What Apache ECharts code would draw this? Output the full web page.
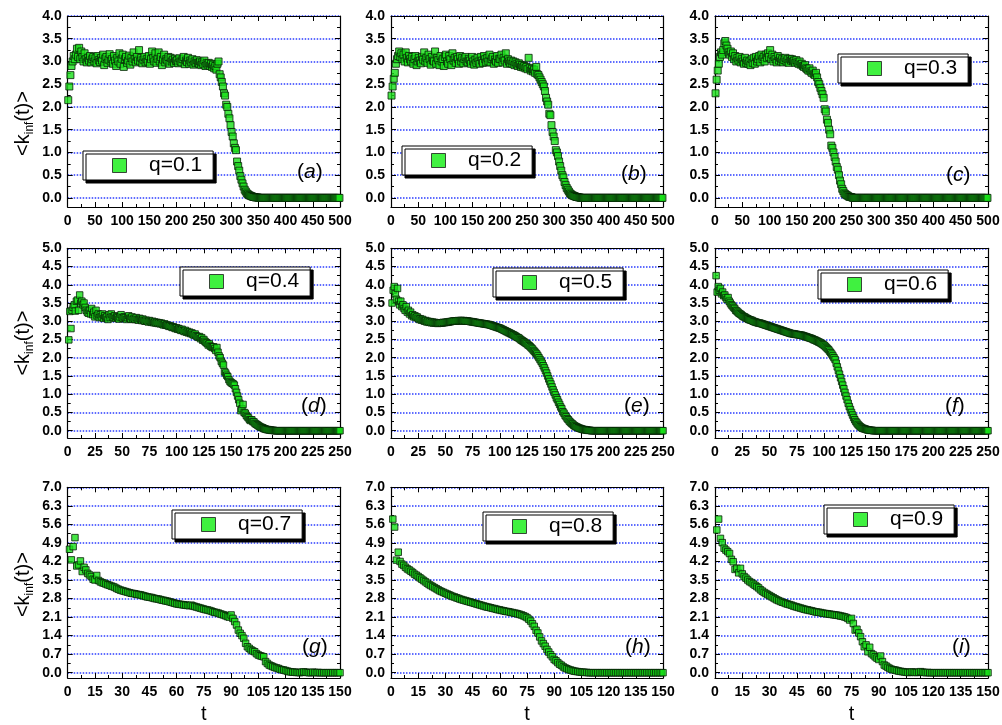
<!DOCTYPE html>
<html>
<head>
<meta charset="utf-8">
<script src="https://cdn.jsdelivr.net/npm/echarts@6/dist/echarts.min.js"></script>
<style>
html,body{margin:0;padding:0;background:#fff;}
#chartsCover{width:1002px;height:725px;}
</style>
</head>
<body>
<div id="chartsCover"></div>
<script>
	// legend names and panel tags
	var qNames = ['q=0.1','q=0.2','q=0.3','q=0.4','q=0.5','q=0.6','q=0.7','q=0.8','q=0.9'];
	var panelTags = ['a','b','c','d','e','f','g','h','i'];

	// tick values of the y axes (row 1, row 2, row 3)
	var yTicks1 = [0,0.5,1.0,1.5,2.0,2.5,3.0,3.5,4.0];
	var yMinor1 = [0.25,0.75,1.25,1.75,2.25,2.75,3.25,3.75];
	var yTicks2 = [0,0.5,1.0,1.5,2.0,2.5,3.0,3.5,4.0,4.5,5.0];
	var yMinor2 = [0.25,0.75,1.25,1.75,2.25,2.75,3.25,3.75,4.25,4.75];
	var yTicks3 = [0,0.7,1.4,2.1,2.8,3.5,4.2,4.9,5.6,6.3,7.0];
	var yMinor3 = [0.35,1.05,1.75,2.45,3.15,3.85,4.55,5.25,5.95,6.65];
	// x axis range / label step per row, and time step of the samples
	var xMaxRow = [500,250,150];
	var xStepRow = [50,25,15];
	var tStepRow = [2,1,1];

	// <k_inf(t)> values, t = 1,3,5,... (row 1) or t = 1,2,3,... (rows 2,3)
	var kA = [
	  2.15,2.45,2.7,2.9,3.0,3.12,3.05,3.15,3.28,3.1,
	  3.3,3.05,3.22,3.1,3.0,3.18,3.05,2.98,3.08,3.02,
	  3.12,2.98,3.05,3.1,3.0,3.07,2.96,3.12,3.03,2.99,
	  3.08,3.02,3.15,2.92,3.06,3.1,2.97,3.04,3.16,3.0,
	  3.05,2.95,3.12,3.02,2.9,3.08,3.0,3.18,2.95,3.06,
	  3.15,2.88,3.05,3.1,2.97,3.02,3.13,2.93,3.08,3.0,
	  3.2,3.05,2.98,3.1,3.02,3.25,3.0,3.08,2.96,3.04,
	  3.1,2.98,3.05,3.0,3.12,2.95,3.05,3.22,3.08,3.0,
	  3.18,2.97,3.06,3.2,3.0,3.1,2.92,3.04,3.15,2.98,
	  3.05,3.02,3.1,2.95,3.08,3.0,3.04,2.97,3.06,3.01,
	  3.03,2.96,3.07,3.0,2.98,3.05,3.1,2.94,3.02,2.99,
	  3.08,2.95,3.02,2.98,3.05,2.93,3.0,2.96,3.03,2.97,
	  2.95,3.0,2.92,2.98,2.94,3.02,2.9,2.96,2.93,2.97,
	  2.9,2.95,2.88,2.93,2.85,2.9,2.82,2.95,3.0,2.72,
	  2.65,2.55,2.45,2.3,2.25,2.05,2.0,1.85,1.75,1.6,
	  1.45,1.35,1.2,1.1,1.05,0.8,0.7,0.6,0.48,0.4,
	  0.32,0.25,0.18,0.14,0.1,0.08,0.06,0.05,0.04,0.03,
	  0.02,0.02,0.01,0.01,0.01,0,0,0,0,0,
	  0,0,0,0,0,0,0,0,0,0,
	  0,0,0,0,0,0,0,0,0,0,
	  0,0,0,0,0,0,0,0,0,0,
	  0,0,0,0,0,0,0,0,0,0,
	  0,0,0,0,0,0,0,0,0,0,
	  0,0,0,0,0,0,0,0,0,0,
	  0,0,0,0,0,0,0,0,0,0
	];
	var kB = [
	  2.25,2.45,2.62,2.75,2.95,3.05,3.12,3.22,3.1,3.18,
	  3.05,3.15,3.0,3.2,3.08,2.98,3.12,3.05,3.0,3.1,
	  2.95,3.05,3.12,2.92,3.0,3.08,3.02,2.96,3.1,3.04,
	  3.2,3.0,3.08,2.97,3.15,3.05,2.93,3.1,3.02,3.0,
	  3.22,2.95,3.08,3.03,2.92,3.12,3.0,3.05,2.9,3.1,
	  3.15,3.0,2.95,3.12,3.05,2.92,3.18,3.02,3.08,2.97,
	  3.1,3.05,2.95,3.12,3.0,3.08,2.96,3.05,3.1,3.0,
	  2.98,3.06,3.02,2.95,3.1,3.0,2.93,3.04,2.97,3.08,
	  3.0,2.95,3.1,3.02,2.97,3.12,3.05,2.98,3.08,3.0,
	  3.15,2.98,3.05,3.1,2.95,3.04,3.0,3.12,2.97,3.06,
	  3.05,3.15,2.98,3.08,3.02,3.18,2.95,3.05,3.0,2.96,
	  3.02,2.95,3.0,2.92,2.98,2.94,2.9,2.96,2.93,2.88,
	  2.92,2.87,2.9,2.85,2.88,2.83,3.08,2.86,2.8,2.84,
	  2.78,2.82,2.75,2.88,2.72,2.7,2.65,2.6,2.55,2.5,
	  2.45,2.35,2.2,2.12,2.05,1.85,1.82,1.6,1.45,1.35,
	  1.25,1.05,1.0,0.92,0.8,0.7,0.6,0.5,0.45,0.35,
	  0.28,0.22,0.18,0.14,0.1,0.08,0.06,0.05,0.04,0.03,
	  0.02,0.02,0.01,0.01,0,0,0,0,0,0,
	  0,0,0,0,0,0,0,0,0,0,
	  0,0,0,0,0,0,0,0,0,0,
	  0,0,0,0,0,0,0,0,0,0,
	  0,0,0,0,0,0,0,0,0,0,
	  0,0,0,0,0,0,0,0,0,0,
	  0,0,0,0,0,0,0,0,0,0,
	  0,0,0,0,0,0,0,0,0,0
	];
	var kC = [
	  2.3,2.6,2.8,2.95,3.1,3.2,3.15,3.25,3.4,3.45,
	  3.35,3.28,3.2,3.15,3.22,3.1,3.18,3.05,3.12,3.0,
	  3.08,3.02,3.1,2.98,3.05,3.0,2.95,3.08,2.97,3.02,
	  2.95,3.0,2.92,3.05,2.97,3.08,2.95,3.1,3.0,3.05,
	  3.12,2.98,3.15,3.05,3.1,3.0,3.15,3.08,3.18,3.1,
	  3.25,3.05,3.15,3.0,3.1,3.05,2.98,3.12,3.02,3.08,
	  3.0,3.05,2.98,3.03,3.08,3.0,3.05,2.97,3.06,3.02,
	  3.05,3.0,3.02,2.97,3.03,2.98,2.95,3.0,2.93,2.95,
	  2.9,2.88,2.92,2.85,2.83,2.8,2.85,2.78,2.75,2.8,
	  2.72,2.7,2.75,2.65,2.55,2.5,2.42,2.35,2.28,2.2,
	  1.95,1.9,1.72,1.65,1.5,1.4,1.15,1.1,1.0,0.9,
	  0.8,0.68,0.62,0.5,0.38,0.3,0.2,0.15,0.1,0.08,
	  0.06,0.05,0.03,0.02,0.02,0.01,0,0,0,0,
	  0,0,0,0,0,0,0,0,0,0,
	  0,0,0,0,0,0,0,0,0,0,
	  0,0,0,0,0,0,0,0,0,0,
	  0,0,0,0,0,0,0,0,0,0,
	  0,0,0,0,0,0,0,0,0,0,
	  0,0,0,0,0,0,0,0,0,0,
	  0,0,0,0,0,0,0,0,0,0,
	  0,0,0,0,0,0,0,0,0,0,
	  0,0,0,0,0,0,0,0,0,0,
	  0,0,0,0,0,0,0,0,0,0,
	  0,0,0,0,0,0,0,0,0,0,
	  0,0,0,0,0,0,0,0,0,0
	];
	var kD = [
	  2.49,3.27,2.8,3.3,3.38,3.45,3.28,3.55,3.58,3.3,
	  3.72,3.5,3.55,3.45,3.5,3.38,3.3,3.25,3.22,3.3,
	  3.2,3.35,3.18,3.25,3.12,3.3,3.15,3.2,3.1,3.18,
	  3.12,3.2,3.08,3.15,3.1,3.12,3.05,3.18,3.1,3.2,
	  3.12,3.1,3.15,3.08,3.12,3.1,3.06,3.12,3.18,3.1,
	  3.08,3.12,3.1,3.05,3.1,3.15,3.08,3.06,3.12,3.05,
	  3.08,3.05,3.1,3.05,3.03,3.08,3.05,3.02,3.06,3.02,
	  3.0,3.03,3.0,2.98,3.02,2.99,2.97,3.0,2.96,2.98,
	  2.95,2.97,2.94,2.96,2.93,2.95,2.92,2.9,2.93,2.89,
	  2.9,2.88,2.86,2.88,2.85,2.83,2.85,2.82,2.8,2.82,
	  2.78,2.8,2.77,2.75,2.78,2.74,2.72,2.75,2.7,2.72,
	  2.68,2.7,2.66,2.68,2.64,2.62,2.65,2.6,2.58,2.56,
	  2.58,2.52,2.55,2.48,2.5,2.45,2.42,2.4,2.35,2.38,
	  2.32,2.3,2.28,2.3,2.25,2.2,2.28,2.15,2.05,2.0,
	  1.9,1.85,1.8,1.62,1.58,1.52,1.48,1.4,1.35,1.32,
	  1.3,1.28,1.25,1.15,1.05,0.95,0.85,0.75,0.55,0.6,
	  0.72,0.5,0.48,0.42,0.38,0.35,0.3,0.28,0.3,0.25,
	  0.24,0.2,0.18,0.16,0.14,0.12,0.1,0.09,0.08,0.06,
	  0.05,0.04,0.03,0.03,0.02,0.02,0.01,0.01,0.01,0,
	  0,0,0,0,0,0,0,0,0,0,
	  0,0,0,0,0,0,0,0,0,0,
	  0,0,0,0,0,0,0,0,0,0,
	  0,0,0,0,0,0,0,0,0,0,
	  0,0,0,0,0,0,0,0,0,0,
	  0,0,0,0,0,0,0,0,0,0
	];
	var kE = [
	  3.5,3.85,3.95,3.75,3.6,3.9,3.55,3.45,3.55,3.4,
	  3.45,3.35,3.3,3.4,3.25,3.3,3.2,3.25,3.15,3.18,
	  3.12,3.15,3.1,3.12,3.08,3.05,3.07,3.03,3.05,3.02,
	  3.0,3.02,2.98,3.0,2.97,2.99,2.96,2.98,2.95,2.97,
	  2.95,2.96,2.94,2.95,2.95,2.96,2.95,2.97,2.96,2.97,
	  2.97,2.98,2.98,2.99,2.99,3.0,3.0,3.01,3.0,3.01,
	  3.01,3.02,3.01,3.02,3.02,3.01,3.02,3.01,3.0,3.01,
	  3.0,3.0,2.99,2.99,2.98,2.98,2.97,2.97,2.96,2.96,
	  2.95,2.95,2.94,2.94,2.93,2.93,2.92,2.92,2.91,2.91,
	  2.9,2.89,2.88,2.87,2.86,2.85,2.84,2.83,2.82,2.81,
	  2.8,2.78,2.77,2.75,2.74,2.72,2.71,2.69,2.68,2.66,
	  2.65,2.63,2.62,2.6,2.58,2.56,2.55,2.53,2.5,2.48,
	  2.46,2.44,2.42,2.4,2.38,2.35,2.33,2.3,2.27,2.24,
	  2.2,2.17,2.13,2.1,2.05,2.0,1.95,1.9,1.85,1.78,
	  1.72,1.65,1.58,1.5,1.42,1.35,1.28,1.2,1.12,1.05,
	  0.98,0.9,0.85,0.78,0.72,0.65,0.6,0.52,0.48,0.42,
	  0.38,0.33,0.3,0.26,0.23,0.2,0.18,0.15,0.13,0.11,
	  0.1,0.08,0.07,0.06,0.05,0.04,0.03,0.03,0.02,0.02,
	  0.01,0.01,0.01,0,0,0,0,0,0,0,
	  0,0,0,0,0,0,0,0,0,0,
	  0,0,0,0,0,0,0,0,0,0,
	  0,0,0,0,0,0,0,0,0,0,
	  0,0,0,0,0,0,0,0,0,0,
	  0,0,0,0,0,0,0,0,0,0,
	  0,0,0,0,0,0,0,0,0,0
	];
	var kF = [
	  4.25,3.8,3.95,3.85,3.9,3.75,3.8,3.7,3.72,3.65,
	  3.6,3.65,3.55,3.5,3.45,3.42,3.38,3.35,3.3,3.28,
	  3.25,3.22,3.2,3.18,3.15,3.13,3.12,3.1,3.08,3.07,
	  3.05,3.04,3.03,3.02,3.0,2.99,2.98,2.97,2.96,2.95,
	  2.95,2.94,2.93,2.92,2.91,2.9,2.89,2.88,2.87,2.86,
	  2.85,2.84,2.83,2.82,2.81,2.8,2.79,2.78,2.77,2.76,
	  2.75,2.74,2.73,2.72,2.71,2.7,2.69,2.68,2.67,2.66,
	  2.66,2.65,2.65,2.64,2.64,2.63,2.63,2.62,2.62,2.61,
	  2.6,2.59,2.58,2.57,2.56,2.55,2.54,2.53,2.52,2.5,
	  2.49,2.48,2.46,2.45,2.43,2.42,2.4,2.38,2.36,2.34,
	  2.31,2.28,2.25,2.22,2.18,2.14,2.1,2.05,2.0,1.95,
	  1.85,1.75,1.65,1.55,1.45,1.35,1.25,1.15,1.05,0.95,
	  0.85,0.75,0.66,0.58,0.5,0.43,0.36,0.3,0.25,0.21,
	  0.17,0.14,0.11,0.09,0.07,0.06,0.05,0.04,0.03,0.02,
	  0.02,0.01,0.01,0.01,0,0,0,0,0,0,
	  0,0,0,0,0,0,0,0,0,0,
	  0,0,0,0,0,0,0,0,0,0,
	  0,0,0,0,0,0,0,0,0,0,
	  0,0,0,0,0,0,0,0,0,0,
	  0,0,0,0,0,0,0,0,0,0,
	  0,0,0,0,0,0,0,0,0,0,
	  0,0,0,0,0,0,0,0,0,0,
	  0,0,0,0,0,0,0,0,0,0,
	  0,0,0,0,0,0,0,0,0,0,
	  0,0,0,0,0,0,0,0,0,0
	];
	var kG = [
	  4.66,4.26,4.76,5.1,4.03,4.07,4.22,3.82,3.98,3.88,
	  3.75,3.69,3.63,3.53,3.5,3.67,3.48,3.43,3.4,3.38,
	  3.35,3.32,3.3,3.27,3.25,3.22,3.18,3.15,3.12,3.1,
	  3.08,3.06,3.04,3.02,3.0,2.99,2.98,2.96,2.95,2.94,
	  2.92,2.9,2.88,2.86,2.85,2.84,2.82,2.8,2.79,2.78,
	  2.76,2.74,2.73,2.71,2.7,2.68,2.66,2.64,2.62,2.6,
	  2.59,2.58,2.57,2.56,2.55,2.54,2.53,2.55,2.52,2.5,
	  2.48,2.46,2.44,2.42,2.4,2.38,2.37,2.35,2.33,2.3,
	  2.28,2.27,2.25,2.22,2.2,2.18,2.15,2.12,2.1,2.18,
	  2.05,1.93,1.8,1.61,1.49,1.4,1.3,1.11,0.98,0.92,
	  0.86,0.82,0.79,0.72,0.67,0.64,0.62,0.6,0.42,0.35,
	  0.29,0.26,0.23,0.2,0.18,0.16,0.13,0.11,0.1,0.08,
	  0.06,0.04,0.03,0.02,0.02,0.01,0.01,0,0.02,0.03,
	  0.02,0.01,0,0,0.02,0.01,0,0.01,0,0,
	  0,0,0,0,0,0,0,0,0,0
	];
	var kH = [
	  5.8,5.5,4.25,4.55,4.2,4.1,4.05,3.98,3.92,3.88,
	  3.83,3.78,3.72,3.68,3.63,3.58,3.53,3.48,3.43,3.38,
	  3.33,3.29,3.25,3.21,3.17,3.13,3.09,3.06,3.03,3.0,
	  2.97,2.94,2.91,2.88,2.86,2.83,2.81,2.78,2.76,2.74,
	  2.72,2.7,2.68,2.66,2.64,2.62,2.6,2.58,2.56,2.54,
	  2.52,2.5,2.48,2.47,2.45,2.43,2.42,2.4,2.38,2.37,
	  2.35,2.34,2.32,2.31,2.3,2.28,2.27,2.25,2.24,2.22,
	  2.2,2.18,2.15,2.12,2.08,2.02,1.95,1.85,1.75,1.6,
	  1.5,1.35,1.2,1.1,1.0,0.88,0.78,0.68,0.6,0.5,
	  0.45,0.38,0.32,0.28,0.22,0.18,0.15,0.12,0.1,0.08,
	  0.06,0.05,0.04,0.03,0.02,0.02,0.01,0.01,0,0,
	  0,0,0,0,0,0,0,0,0,0,
	  0,0,0,0,0,0,0,0,0,0,
	  0,0,0,0,0,0,0,0,0,0,
	  0,0,0,0,0,0,0,0,0,0
	];
	var kI = [
	  5.39,5.8,5.07,4.91,4.7,4.63,4.57,4.5,4.28,4.19,
	  3.9,3.94,3.77,3.94,3.73,3.63,3.57,3.5,3.44,3.4,
	  3.35,3.3,3.25,3.2,3.13,3.08,3.03,2.99,2.95,2.91,
	  2.87,2.83,2.79,2.75,2.72,2.69,2.66,2.64,2.61,2.59,
	  2.57,2.55,2.52,2.5,2.48,2.46,2.44,2.42,2.4,2.38,
	  2.37,2.35,2.34,2.32,2.3,2.29,2.28,2.27,2.25,2.24,
	  2.23,2.22,2.21,2.2,2.19,2.18,2.17,2.16,2.14,2.13,
	  2.11,2.09,2.05,1.99,2.05,1.86,1.61,1.64,1.5,1.36,
	  1.17,0.98,1.05,0.79,0.96,0.72,0.67,0.6,0.55,0.5,
	  0.63,0.42,0.29,0.25,0.2,0.16,0.13,0.11,0.1,0.08,
	  0.06,0.05,0.04,0.03,0.02,0.01,0.01,0.03,0.02,0.01,
	  0.01,0.02,0.04,0.02,0.01,0,0.01,0,0,0,
	  0,0,0,0,0,0,0,0,0,0,
	  0,0,0,0,0,0,0,0,0,0,
	  0,0,0,0,0,0,0,0,0,0
	];
	var kList = [kA,kB,kC,kD,kE,kF,kG,kH,kI];

	// layout (px)
	var colLeft = [67.7, 391, 715];
	var colWidth = [272.3, 272, 273];
	var rowTop = [16, 248.3, 487.3];
	var rowHeight = [191, 189.7, 190.7];
	var rowYMax = [4.0, 5.0, 7.0];
	var rowTicks = [yTicks1, yTicks2, yTicks3];
	var rowMinor = [yMinor1, yMinor2, yMinor3];
	var nameShift = [24, 0, 4];   // extra end padding of the y name, moves it down
	var legendPos = [[83,151],[402,146],[838,54],[180,267],[493,268],[818,270],[172,510],[483,512],[824,505]];
	var tagPos = [[297,162],[621,164],[946,165],[301,396],[624,396],[945,396],[302,637],[625,637],[952,637]];

	var fontFam = 'Arial, "Liberation Sans", sans-serif';

	function yAxisOf(g, r, side, major, first){
	  var ax = {
	    gridIndex: g,
	    type: 'value',
	    position: side,
	    min: -0.2,
	    max: rowYMax[r],
	    axisLine: { show: major, onZero: false, lineStyle: { color: '#000', width: 1.2 } },
	    axisTick: { show: true, inside: true, length: major ? 5 : 3,
	                customValues: major ? rowTicks[r] : rowMinor[r],
	                lineStyle: { color: '#000', width: 1 } },
	    axisLabel: { show: false },
	    splitLine: { show: false },
	    minorSplitLine: { show: false }
	  };
	  if(first){
	    ax.axisLabel = { show: true, customValues: rowTicks[r], color: '#000', fontSize: 14, fontWeight: 'bold',
	                     fontFamily: fontFam, margin: 6,
	                     formatter: function(v){ return v.toFixed(1); } };
	    ax.splitLine = { show: true, lineStyle: { color: '#2a3cff', type: 'dotted', width: 1.5 } };
	  }
	  return ax;
	}

	function xAxisOf(g, r, side, first){
	  return {
	    gridIndex: g,
	    type: 'value',
	    position: side,
	    min: 0,
	    max: xMaxRow[r],
	    interval: xStepRow[r],
	    axisLine: { show: true, onZero: false, lineStyle: { color: '#000', width: 1.2 } },
	    axisTick: { show: true, inside: true, length: 5, lineStyle: { color: '#000', width: 1 } },
	    minorTick: { show: true, splitNumber: 2, length: 3, lineStyle: { color: '#000', width: 1 } },
	    axisLabel: { show: first, color: '#000', fontSize: 14, fontWeight: 'bold', fontFamily: fontFam, margin: 7 },
	    splitLine: { show: false }
	  };
	}

	var grids = [], xAxes = [], yAxes = [], series = [], legends = [], titles = [];
	for(var i = 0; i < 9; i++){
	  var r = Math.floor(i / 3), c = i % 3;
	  grids.push({ left: colLeft[c], top: rowTop[r], width: colWidth[c], height: rowHeight[r],
	               containLabel: false, outerBoundsMode: 'none' });

	  var xb = xAxisOf(i, r, 'bottom', true);
	  if(r == 2){
	    xb.name = 't';
	    xb.nameLocation = 'middle';
	    xb.nameGap = 26;
	    xb.nameTextStyle = { fontSize: 20, fontFamily: fontFam, color: '#000' };
	  }
	  xAxes.push(xb);
	  xAxes.push(xAxisOf(i, r, 'top', false));

	  var yl = yAxisOf(i, r, 'left', true, true);
	  if(c == 0){
	    yl.name = '{m|<k}{s|inf}{m|(t)>}';
	    yl.nameLocation = 'middle';
	    yl.nameRotate = 90;
	    yl.nameGap = 32;
	    yl.nameTextStyle = { fontSize: 20, fontFamily: fontFam, color: '#000',
	                         padding: [0, nameShift[r], 0, 0],
	                         rich: {
	                           m: { fontSize: 20, fontFamily: fontFam, color: '#000', lineHeight: 22, verticalAlign: 'top' },
	                           s: { fontSize: 12, fontFamily: fontFam, color: '#000', lineHeight: 12,
	                                verticalAlign: 'bottom', padding: [16,0,0,0] }
	                         } };
	  }
	  yAxes.push(yl);
	  yAxes.push(yAxisOf(i, r, 'left', false, false));
	  yAxes.push(yAxisOf(i, r, 'right', true, false));
	  yAxes.push(yAxisOf(i, r, 'right', false, false));

	  var vals = kList[i], pts = [];
	  for(var k = 0; k < vals.length; k++){
	    pts.push([1 + k * tStepRow[r], vals[k]]);
	  }
	  series.push({
	    name: qNames[i],
	    type: 'scatter',
	    xAxisIndex: 2 * i,
	    yAxisIndex: 4 * i,
	    symbol: 'rect',
	    symbolSize: r == 0 ? 7 : 6.5,
	    itemStyle: { color: '#18e018', borderColor: '#062006', borderWidth: 1 },
	    data: pts,
	    z: 3
	  });

	  legends.push({
	    data: [qNames[i]],
	    left: legendPos[i][0],
	    top: legendPos[i][1],
	    orient: 'horizontal',
	    padding: [4, 11, 4, 29],
	    itemWidth: 14,
	    itemHeight: 14,
	    icon: 'rect',
	    backgroundColor: '#fff',
	    borderColor: '#000',
	    borderWidth: 1,
	    borderRadius: 0,
	    shadowColor: '#000',
	    shadowBlur: 0,
	    shadowOffsetX: 3,
	    shadowOffsetY: 3,
	    selectedMode: false,
	    itemStyle: { color: '#10ee10', borderColor: '#1a1a1a', borderWidth: 1 },
	    formatter: '   {name}',
	    textStyle: { fontSize: 21, fontFamily: fontFam, color: '#000' }
	  });

	  titles.push({
	    text: '{p|(}{t|' + panelTags[i] + '}{p|)}',
	    left: tagPos[i][0],
	    top: tagPos[i][1],
	    padding: 0,
	    textStyle: {
	      rich: {
	        p: { fontSize: 21, fontFamily: fontFam, color: '#000', fontWeight: 'normal' },
	        t: { fontSize: 21, fontFamily: fontFam, color: '#000', fontWeight: 'normal', fontStyle: 'italic' }
	      }
	    }
	  });
	}

	var chartsOption = {
	  animation: false,
	  backgroundColor: '#fff',
	  title: titles,
	  legend: legends,
	  grid: grids,
	  xAxis: xAxes,
	  yAxis: yAxes,
	  series: series
	};

	var myChart = echarts.init(document.getElementById('chartsCover'));
	chartsOption && myChart.setOption(chartsOption, true);
</script>
</body>
</html>
